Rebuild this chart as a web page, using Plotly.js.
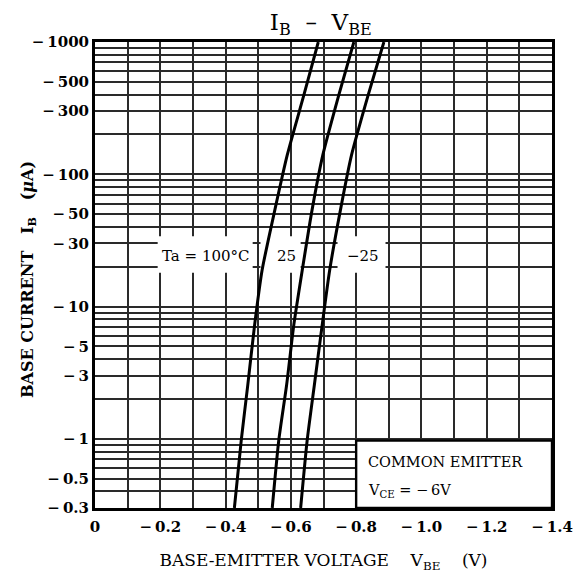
<!DOCTYPE html>
<html>
<head>
<meta charset="utf-8">
<script src="https://cdn.plot.ly/plotly-3.0.1.min.js"></script>
<style>html,body{margin:0;padding:0;background:#fff;}#chart{width:578px;height:575px;}</style>
</head>
<body>
<div id="chart"></div>
<script>
// Base current magnitude |IB| in µA (plotted on log axis, labelled negative)
const ibValues = [0.3, 0.975, 2.55, 7.26, 18.9, 53.8, 140, 398, 1000];
// VBE (V) for each ambient temperature
const vbe100 = [-0.427, -0.448, -0.468, -0.489, -0.512, -0.551, -0.589, -0.640, -0.684];
const vbe25  = [-0.543, -0.563, -0.587, -0.609, -0.635, -0.665, -0.698, -0.747, -0.793];
const vbeM25 = [-0.630, -0.650, -0.672, -0.696, -0.719, -0.752, -0.786, -0.837, -0.885];
const curveNames = ['Ta = 100°C', '25', '−25'];

// axis ticks
const xTickVals = [0, -0.1, -0.2, -0.3, -0.4, -0.5, -0.6, -0.7, -0.8, -0.9, -1.0, -1.1, -1.2, -1.3, -1.4];
const xTickText = ['0', '', '−\u20090.2', '', '−\u20090.4', '', '−\u20090.6', '', '−\u20090.8', '', '−\u20091.0', '', '−\u20091.2', '', '−\u20091.4'];
const yTickVals = [0.3, 0.4, 0.5, 0.6, 0.7, 0.8, 0.9, 1, 2, 3, 4, 5, 6, 7, 8, 9, 10, 20, 30, 40, 50, 60, 70, 80, 90,
                   100, 200, 300, 400, 500, 600, 700, 800, 900, 1000];
const yLabelled = {0.3: '−\u20090.3', 0.5: '−\u20090.5', 1: '−\u20091', 3: '−\u20093', 5: '−\u20095', 10: '−\u200910',
                   30: '−\u200930', 50: '−\u200950', 100: '−\u2009100', 300: '−\u2009300', 500: '−\u2009500', 1000: '−\u20091000'};
const yTickText = yTickVals.map(v => yLabelled[v] || '');

const SERIF = '"DejaVu Serif", "Liberation Serif", serif';

const traces = [vbe100, vbe25, vbeM25].map((xs, i) => ({
  x: xs, y: ibValues, type: 'scatter', mode: 'lines', name: curveNames[i],
  line: {color: '#000', width: 3, shape: 'spline', smoothing: 0.6},
  hoverinfo: 'skip'
}));

// white label masks & condition box (data coords)
const maskY = [18, 34];
const masks = [[-0.192, -0.483], [-0.507, -0.630], [-0.743, -0.890]].map(r => ({
  type: 'rect', layer: 'between', xref: 'x', yref: 'y',
  x0: r[0], x1: r[1], y0: maskY[0], y1: maskY[1],
  fillcolor: '#fff', line: {width: 0}
}));
const condBox = {
  type: 'rect', layer: 'between', xref: 'x', yref: 'y',
  x0: -0.8, x1: -1.4, y0: 0.3, y1: 0.97,
  fillcolor: '#fff', line: {color: '#000', width: 2.4}
};

const labelIB = 24;
const annFont = {family: SERIF, size: 15, color: '#000'};
const condFont = {family: SERIF, size: 14.5, color: '#000'};
const annotations = [
  {x: -0.339, y: Math.log10(labelIB), text: curveNames[0], showarrow: false, font: annFont, xanchor: 'center', yanchor: 'middle'},
  {x: -0.586, y: Math.log10(labelIB), text: curveNames[1], showarrow: false, font: annFont, xanchor: 'center', yanchor: 'middle'},
  {x: -0.820, y: Math.log10(labelIB), text: curveNames[2], showarrow: false, font: annFont, xanchor: 'center', yanchor: 'middle'},
  {x: -0.829, y: Math.log10(0.668), text: 'COMMON EMITTER', showarrow: false, font: condFont, xanchor: 'left', yanchor: 'middle'},
  {x: -0.829, y: Math.log10(0.40), text: 'V<sub>CE</sub> = −\u20096V', showarrow: false, font: condFont, xanchor: 'left', yanchor: 'middle'},
  {xref: 'paper', yref: 'paper', x: -0.146, y: 0.49, textangle: -90, xanchor: 'center', yanchor: 'middle', showarrow: false,
   text: 'BASE CURRENT   I<sub>B</sub>   (<i>μ</i>A)', font: {family: SERIF, size: 16, color: '#000', weight: 'bold'}}
];

const layout = {
  width: 578, height: 575,
  margin: {l: 95, r: 26, t: 42, b: 67},
  paper_bgcolor: '#fff', plot_bgcolor: '#fff',
  showlegend: false,
  title: {text: 'I<sub>B</sub>  –  V<sub>BE</sub>', font: {family: SERIF, size: 23, color: '#000'},
          x: 0.555, xanchor: 'center', y: 0.962, yanchor: 'middle'},
  xaxis: {
    range: [0, -1.4], tickvals: xTickVals, ticktext: xTickText,
    showgrid: true, gridcolor: '#2a2a2a', gridwidth: 2, zeroline: false,
    showline: true, mirror: true, linecolor: '#000', linewidth: 3, ticks: '',
    ticklabelstandoff: 3,
    tickfont: {family: SERIF, size: 15, color: '#000', weight: 'bold'},
    title: {text: 'BASE-EMITTER VOLTAGE    V<sub>BE</sub>    (V)', font: {family: SERIF, size: 17, color: '#000'}, standoff: 20}
  },
  yaxis: {
    type: 'log', range: [Math.log10(0.3), 3], tickvals: yTickVals, ticktext: yTickText,
    showgrid: true, gridcolor: '#2a2a2a', gridwidth: 2, zeroline: false,
    showline: true, mirror: true, linecolor: '#000', linewidth: 3, ticks: '',
    tickfont: {family: SERIF, size: 15, color: '#000', weight: 'bold'}
  },
  shapes: masks.concat([condBox]),
  annotations: annotations
};

Plotly.newPlot('chart', traces, layout, {staticPlot: true, displayModeBar: false});
</script>
</body>
</html>
